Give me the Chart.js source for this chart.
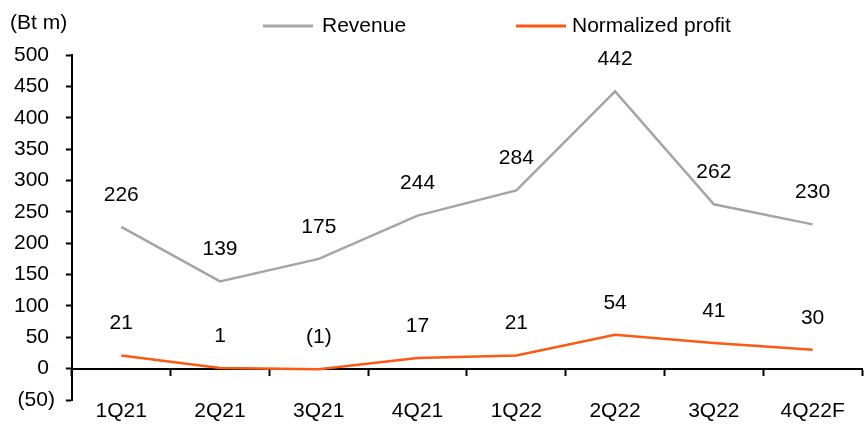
<!DOCTYPE html>
<html>
<head>
<meta charset="utf-8">
<script src="https://cdn.jsdelivr.net/npm/chart.js@4"></script>
<style>
html,body{margin:0;padding:0;background:#fff;}
#c{display:block;}
</style>
</head>
<body>
<canvas id="c" width="864" height="434"></canvas>
<script>
const categories = ["1Q21","2Q21","3Q21","4Q21","1Q22","2Q22","3Q22","4Q22F"];
const revenue = [226,139,175,244,284,442,262,230];
const normalizedProfit = [21,1,-1,17,21,54,41,30];
const unitLabel = "(Bt m)";
const seriesNames = ["Revenue","Normalized profit"];

const FONT = "'Liberation Sans', Arial, sans-serif";
const FS = 21;
const fmt = v => v < 0 ? "(" + Math.abs(v) + ")" : String(v) + " ";

const labelsPlugin = {
  id: 'labelsPlugin',
  afterDatasetsDraw(chart) {
    const ctx = chart.ctx;
    ctx.save();
    ctx.font = FS + "px " + FONT;
    ctx.fillStyle = "#000";
    ctx.textAlign = "center";
    ctx.textBaseline = "middle";
    chart.data.datasets.forEach((ds, i) => {
      const meta = chart.getDatasetMeta(i);
      meta.data.forEach((pt, j) => {
        const v = ds.data[j];
        const t = v < 0 ? "(" + Math.abs(v) + ")" : String(v);
        ctx.fillText(t, pt.x, pt.y - 32);
      });
    });
    ctx.restore();
  },
  afterDraw(chart) {
    const ctx = chart.ctx;
    ctx.save();
    ctx.font = FS + "px " + FONT;
    ctx.fillStyle = "#000";
    ctx.textBaseline = "middle";
    ctx.textAlign = "left";
    ctx.fillText(unitLabel, 10, 23);
    const items = [[263, 313, 322], [516, 566, 572]];
    chart.data.datasets.forEach((ds, i) => {
      const [x0, x1, tx] = items[i];
      ctx.strokeStyle = ds.borderColor;
      ctx.lineWidth = 3;
      ctx.beginPath();
      ctx.moveTo(x0, 26);
      ctx.lineTo(x1, 26);
      ctx.stroke();
      ctx.fillStyle = "#000";
      ctx.fillText(ds.label, tx, 26);
    });
    ctx.restore();
  }
};

new Chart(document.getElementById('c'), {
  type: 'line',
  data: {
    labels: categories,
    datasets: [
      { label: seriesNames[0], data: revenue, borderColor: "#A5A5A5", backgroundColor: "#A5A5A5",
        borderWidth: 2.5, pointRadius: 0, tension: 0, xAxisID: 'x', yAxisID: 'y' },
      { label: seriesNames[1], data: normalizedProfit, borderColor: "#FA5A14", backgroundColor: "#FA5A14",
        borderWidth: 2.5, pointRadius: 0, tension: 0, xAxisID: 'x', yAxisID: 'y' }
    ]
  },
  options: {
    responsive: false,
    animation: false,
    layout: { padding: { top: 55, left: 3, right: 2, bottom: 11 } },
    plugins: { legend: { display: false }, tooltip: { enabled: false } },
    scales: {
      y: {
        min: -50, max: 500,
        ticks: { stepSize: 50, color: "#000", font: { size: FS, family: FONT }, padding: 11, callback: v => fmt(v) },
        grid: { drawOnChartArea: false, tickLength: 6, tickColor: "#000", tickWidth: 2 },
        border: { color: "#000", width: 2 }
      },
      x: {
        type: 'category',
        position: { y: 0 },
        offset: true,
        ticks: { display: false },
        grid: { offset: true, drawOnChartArea: false, tickLength: 6, tickColor: "#000", tickWidth: 2 },
        border: { color: "#000", width: 2 }
      },
      x2: {
        type: 'category',
        position: 'bottom',
        labels: categories,
        offset: true,
        ticks: { color: "#000", font: { size: FS, family: FONT, lineHeight: 1 }, padding: 1 },
        grid: { display: false, drawTicks: false },
        border: { display: false }
      }
    }
  },
  plugins: [labelsPlugin]
});
</script>
</body>
</html>
